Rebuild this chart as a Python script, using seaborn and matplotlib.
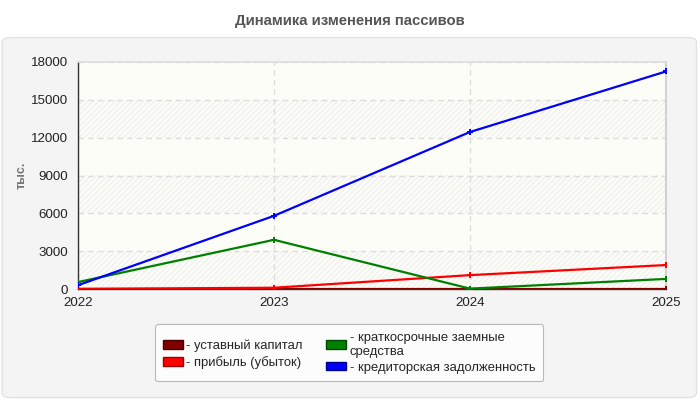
import pandas as pd
import matplotlib
matplotlib.use("Agg")
import matplotlib.pyplot as plt
from matplotlib.patches import FancyBboxPatch, Patch
import seaborn as sns

# данные (тыс.)
years = [2022, 2023, 2024, 2025]
ustavny = [10, 10, 10, 10]
pribyl = [10, 100, 1100, 1900]
kratkosroch = [550, 3900, 30, 800]
kreditor = [300, 5800, 12450, 17250]

labels = ["- уставный капитал", "- прибыль (убыток)",
          "- краткосрочные заемные\nсредства", "- кредиторская задолженность"]
colors = ["#800000", "#ff0000", "#008000", "#0000ff"]
edge_colors = ["#4a0000", "#a00000", "#004a00", "#00008a"]

sns.set_theme(style="white")
plt.rcParams["font.family"] = ["Liberation Sans", "DejaVu Sans"]

df = pd.DataFrame({
    "year": years * 4,
    "value": ustavny + pribyl + kratkosroch + kreditor,
    "series": sum([[l] * len(years) for l in labels], []),
})

fig = plt.figure(figsize=(7, 4), dpi=100)
fig.patch.set_facecolor("white")

# серая подложка
panel = FancyBboxPatch((0.003, 0.006), 0.992, 0.9, boxstyle="round,pad=0,rounding_size=0.012",
                       transform=fig.transFigure, facecolor="#f4f4f4", edgecolor="#e2e2e2",
                       linewidth=1, zorder=-5)
fig.patches.append(panel)

fig.text(0.5, 0.948, "Динамика изменения пассивов", ha="center", va="center",
         fontsize=10.7, fontweight="bold", color="#555555")

ax = fig.add_axes([0.1114, 0.2775, 0.84, 0.5675])
ax.set_zorder(2)
ax.set_facecolor("#fdfdf8")

# полосы фона
for i, lo in enumerate(range(0, 18000, 3000)):
    if i % 2 == 0:
        ax.axhspan(lo, lo + 3000, facecolor="none", edgecolor="#f0f0f0",
                   hatch="//////", linewidth=0, zorder=0)

sns.lineplot(data=df, x="year", y="value", hue="series", hue_order=labels,
             palette=colors, ax=ax, legend=False, linewidth=1.6,
             marker="P", markersize=4.5, markeredgewidth=0, zorder=3)

ax.set_xlim(2022, 2025)
ax.set_ylim(0, 18000)
ax.set_xticks(years)
ax.set_xticklabels([str(y) for y in years])
ax.set_yticks(range(0, 18001, 3000))
ax.tick_params(axis="both", labelsize=9.6, colors="#222222", length=4, width=1,
               direction="out", pad=3)
ax.tick_params(axis="x", length=3)
ax.grid(axis="y", color="#dddddd", linestyle=(0, (4, 3)), linewidth=1)
ax.grid(axis="x", color="#dddddd", linestyle=(0, (4, 3)), linewidth=1)
ax.set_axisbelow(True)
ax.set_xlabel("")
ax.set_ylabel("тыс.", fontsize=9, fontweight="bold", color="#777777")
ax.yaxis.set_label_coords(-0.086, 0.5)

for side in ["left", "bottom"]:
    ax.spines[side].set_color("#333333")
    ax.spines[side].set_linewidth(1)
ax.spines["top"].set_color("#dddddd")
ax.spines["right"].set_color("#cccccd")

handles = [Patch(facecolor=c, edgecolor=e, linewidth=1) for c, e in zip(colors, edge_colors)]
leg = fig.legend(handles, labels, loc="upper center", bbox_to_anchor=(0.499, 0.19),
                 ncol=2, fontsize=9.4, frameon=True, fancybox=True, handlelength=1.5,
                 handleheight=0.6, handletextpad=0.3, columnspacing=1.8, labelspacing=0.3,
                 borderpad=0.6, borderaxespad=0)
leg.set_zorder(3)
leg.get_frame().set_edgecolor("#aaaaaa")
leg.get_frame().set_facecolor("white")
leg.get_frame().set_linewidth(0.8)

fig.savefig("out.png", dpi=100)
